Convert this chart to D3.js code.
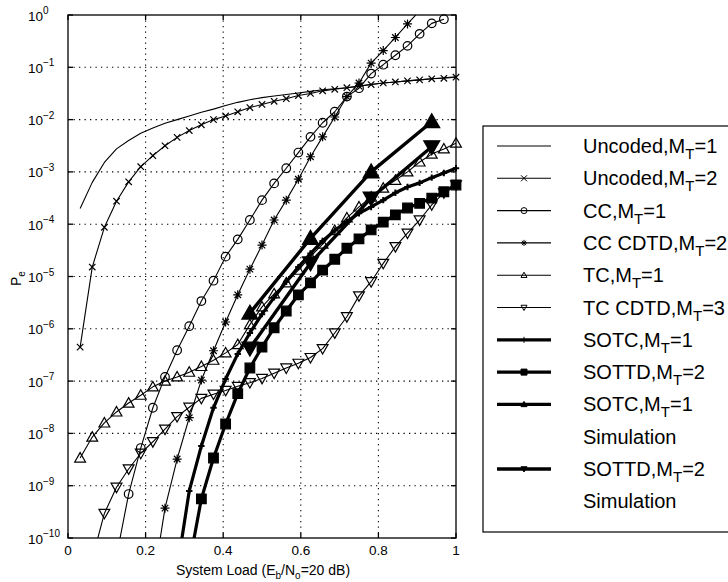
<!DOCTYPE html>
<html>
<head>
<meta charset="utf-8">
<script src="https://cdn.jsdelivr.net/npm/d3@7"></script>
<style>
  body { margin: 0; background: #fff; }
  svg { display: block; font-family: "Liberation Sans", Arial, Helvetica, sans-serif; }
</style>
</head>
<body>
<svg id="chart" width="728" height="582"></svg>
<script>
// system load (K users / 32), shared x for the analysis curves
const load = [0.03125, 0.0625, 0.09375, 0.125, 0.15625, 0.1875, 0.21875, 0.25,
  0.28125, 0.3125, 0.34375, 0.375, 0.40625, 0.4375, 0.46875, 0.5,
  0.53125, 0.5625, 0.59375, 0.625, 0.65625, 0.6875, 0.71875, 0.75,
  0.78125, 0.8125, 0.84375, 0.875, 0.90625, 0.9375, 0.96875, 1];

// log10(Pe), null = not plotted
const uncoded1 = [-3.70, -3.20, -2.82, -2.56, -2.40, -2.26, -2.16, -2.07, -2.00, -1.93, -1.86, -1.80, -1.73, -1.67, -1.62, -1.58,
  -1.55, -1.52, -1.49, -1.46, -1.43, -1.41, -1.39, -1.36, -1.33, -1.30, -1.28, -1.26, -1.24, -1.22, -1.20, -1.18];
const uncoded2 = [-6.35, -4.82, -4.06, -3.56, -3.19, -2.90, -2.69, -2.50, -2.34, -2.21, -2.10, -2.00, -1.93, -1.85, -1.77, -1.71,
  -1.65, -1.60, -1.54, -1.50, -1.45, -1.42, -1.39, -1.36, -1.33, -1.30, -1.28, -1.26, -1.24, -1.22, -1.21, -1.19];
const cc = [null, null, null, -10.35, -9.16, -8.28, -7.51, -6.92, -6.41, -5.95, -5.47, -5.08, -4.62, -4.29, -3.92, -3.54,
  -3.22, -2.93, -2.63, -2.33, -2.06, -1.85, -1.56, -1.40, -1.12, -0.95, -0.77, -0.59, -0.36, -0.16, -0.08, null];
const ccCdtd = [null, null, null, null, null, null, -10.9, -9.43, -8.49, -7.70, -6.98, -6.42, -5.87, -5.35, -4.86, -4.40,
  -3.92, -3.54, -3.14, -2.71, -2.33, -1.95, -1.56, -1.30, -0.92, -0.68, -0.43, -0.17, 0.08, null, null, null];
const tc = [-8.47, -8.07, -7.80, -7.59, -7.42, -7.27, -7.11, -7.00, -6.92, -6.83, -6.72, -6.60, -6.46, -6.30, -5.92, -5.58,
  -5.33, -5.12, -4.88, -4.62, -4.38, -4.12, -3.88, -3.67, -3.48, -3.31, -3.16, -3.00, -2.81, -2.66, -2.56, -2.45];
const tcCdtd = [null, -10.4, -9.53, -9.03, -8.68, -8.38, -8.16, -7.92, -7.68, -7.50, -7.33, -7.25, -7.18, -7.10, -7.03, -6.95,
  -6.85, -6.75, -6.66, -6.55, -6.38, -6.08, -5.77, -5.37, -5.10, -4.75, -4.43, -4.17, -3.92, -3.63, -3.40, -3.25];
const sotc = [null, null, null, null, null, null, null, null, -10.6, -9.10, -8.24, -7.51, -6.96, -6.48, -6.08, -5.72,
  -5.40, -5.10, -4.82, -4.56, -4.32, -4.12, -3.95, -3.79, -3.67, -3.54, -3.40, -3.29, -3.21, -3.11, -3.02, -2.93];
const sottd = [null, null, null, null, null, null, null, null, null, -10.5, -9.25, -8.47, -7.82, -7.24, -6.75, -6.35,
  -5.98, -5.66, -5.35, -5.12, -4.88, -4.67, -4.46, -4.28, -4.11, -3.96, -3.82, -3.69, -3.60, -3.50, -3.38, -3.25];

// simulation points
const simLoad = [0.46875, 0.625, 0.78125, 0.9375];
const sotcSim = [-5.70, -4.27, -3.00, -2.04];
const sottdSim = [-6.37, -4.74, -3.50, -2.52];

const xTicks = [0, 0.2, 0.4, 0.6, 0.8, 1];
const yExps = [0, -1, -2, -3, -4, -5, -6, -7, -8, -9, -10];

const legendRows = [
  { pre: 'Uncoded,M', sub: 'T', post: '=1' },
  { pre: 'Uncoded,M', sub: 'T', post: '=2' },
  { pre: 'CC,M', sub: 'T', post: '=1' },
  { pre: 'CC CDTD,M', sub: 'T', post: '=2' },
  { pre: 'TC,M', sub: 'T', post: '=1' },
  { pre: 'TC CDTD,M', sub: 'T', post: '=3' },
  { pre: 'SOTC,M', sub: 'T', post: '=1' },
  { pre: 'SOTTD,M', sub: 'T', post: '=2' },
  { pre: 'SOTC,M', sub: 'T', post: '=1' },
  { pre: 'Simulation' },
  { pre: 'SOTTD,M', sub: 'T', post: '=2' },
  { pre: 'Simulation' }
];

const series = [
  { x: load, y: uncoded1, mark: null, w: 1.1, row: 0 },
  { x: load, y: uncoded2, mark: 'x', w: 1.1, s: 3.2, row: 1 },
  { x: load, y: cc, mark: 'o', w: 1.1, s: 4.3, row: 2 },
  { x: load, y: ccCdtd, mark: '*', w: 1.1, s: 4.5, row: 3 },
  { x: load, y: tc, mark: '^', w: 1.1, s: 5.4, row: 4 },
  { x: load, y: tcCdtd, mark: 'v', w: 1.1, s: 5.4, row: 5 },
  { x: load, y: sotc, mark: '+', w: 3.2, s: 3.2, row: 6 },
  { x: load, y: sottd, mark: 's', w: 3.2, s: 4.8, row: 7 },
  { x: simLoad, y: sotcSim, mark: '^', w: 3.4, s: 8, fill: true, row: 8 },
  { x: simLoad, y: sottdSim, mark: 'v', w: 3.4, s: 8, fill: true, row: 10 }
];

const svg = d3.select('#chart');
const x = d3.scaleLinear().domain([0, 1]).range([68, 456]);
const y = d3.scaleLog().domain([1e-10, 1]).range([538, 15]);

function markerPath(type, s) {
  const p = d3.path();
  if (type === 'x') {
    p.moveTo(-s, -s); p.lineTo(s, s); p.moveTo(-s, s); p.lineTo(s, -s);
  } else if (type === '+') {
    p.moveTo(-s, 0); p.lineTo(s, 0); p.moveTo(0, -s); p.lineTo(0, s);
  } else if (type === '*') {
    const d = s * 0.72;
    p.moveTo(-s, 0); p.lineTo(s, 0); p.moveTo(0, -s); p.lineTo(0, s);
    p.moveTo(-d, -d); p.lineTo(d, d); p.moveTo(-d, d); p.lineTo(d, -d);
  } else if (type === '^') {
    p.moveTo(0, -s); p.lineTo(s, s * 0.75); p.lineTo(-s, s * 0.75); p.closePath();
  } else if (type === 'v') {
    p.moveTo(0, s); p.lineTo(s, -s * 0.75); p.lineTo(-s, -s * 0.75); p.closePath();
  } else if (type === 's') {
    p.rect(-s, -s, 2 * s, 2 * s);
  } else if (type === 'o') {
    p.arc(0, 0, s, 0, 2 * Math.PI);
  }
  return p.toString();
}

function drawMarker(g, type, s, filled, sw) {
  g.append('path')
    .attr('d', markerPath(type, s))
    .attr('fill', (filled || type === 's') ? '#000' : 'none')
    .attr('stroke', '#000')
    .attr('stroke-width', sw);
}

svg.append('clipPath').attr('id', 'plot-clip')
  .append('rect').attr('x', 68).attr('y', 15).attr('width', 388).attr('height', 523);

// dotted grid
const grid = svg.append('g').attr('stroke', '#000').attr('stroke-width', 1.1).attr('stroke-dasharray', '1.3,4.2');
yExps.filter(e => e < 0 && e > -10).forEach(e => {
  grid.append('line').attr('x1', x(0)).attr('x2', x(1))
    .attr('y1', y(Math.pow(10, e))).attr('y2', y(Math.pow(10, e)));
});
xTicks.filter(t => t > 0 && t < 1).forEach(t => {
  grid.append('line').attr('x1', x(t)).attr('x2', x(t)).attr('y1', y(1)).attr('y2', y(1e-10));
});

// curves
const plot = svg.append('g');
series.forEach(sr => {
  const pts = sr.x.map((v, i) => [v, sr.y[i]]).filter(d => d[1] != null);
  const line = d3.line().x(d => x(d[0])).y(d => y(Math.pow(10, d[1])));
  plot.append('path')
    .attr('d', line(pts))
    .attr('fill', 'none')
    .attr('stroke', '#000')
    .attr('stroke-width', sr.w)
    .attr('stroke-linejoin', 'round')
    .attr('clip-path', 'url(#plot-clip)');
  if (sr.mark) {
    pts.filter(d => d[1] <= 0 && d[1] >= -10).forEach(d => {
      const g = plot.append('g').attr('transform', `translate(${x(d[0])},${y(Math.pow(10, d[1]))})`);
      drawMarker(g, sr.mark, sr.s, sr.fill, sr.mark === '+' ? 2 : 1.2);
    });
  }
});

// axes frame and inward ticks
const axes = svg.append('g').attr('stroke', '#000').attr('stroke-width', 1.3);
axes.append('rect').attr('x', 68).attr('y', 15).attr('width', 388).attr('height', 523).attr('fill', 'none');
xTicks.forEach(t => {
  axes.append('line').attr('x1', x(t)).attr('x2', x(t)).attr('y1', 538).attr('y2', 533);
  axes.append('line').attr('x1', x(t)).attr('x2', x(t)).attr('y1', 15).attr('y2', 20);
});
yExps.forEach(e => {
  const yy = y(Math.pow(10, e));
  axes.append('line').attr('x1', 68).attr('x2', 73).attr('y1', yy).attr('y2', yy);
  axes.append('line').attr('x1', 456).attr('x2', 451).attr('y1', yy).attr('y2', yy);
});

// tick labels
xTicks.forEach(t => {
  svg.append('text').attr('x', x(t)).attr('y', 555).attr('text-anchor', 'middle')
    .attr('font-size', 13.5).text(String(t));
});
yExps.forEach(e => {
  const tx = svg.append('text').attr('x', 28).attr('y', y(Math.pow(10, e)) + 5.5).attr('font-size', 13.5);
  tx.append('tspan').text('10');
  tx.append('tspan').attr('dy', -6.5).attr('font-size', 10).text(e === 0 ? '0' : '\u2212' + (-e));
});

// axis titles
const xl = svg.append('text').attr('x', 263).attr('y', 575).attr('text-anchor', 'middle').attr('font-size', 14);
xl.append('tspan').text('System Load (E');
xl.append('tspan').attr('dy', 3.5).attr('font-size', 10).text('b');
xl.append('tspan').attr('dy', -3.5).text('/N');
xl.append('tspan').attr('dy', 3.5).attr('font-size', 10).text('o');
xl.append('tspan').attr('dy', -3.5).text('=20 dB)');

const yl = svg.append('text').attr('transform', 'translate(21,286) rotate(-90)').attr('font-size', 14);
yl.append('tspan').text('P');
yl.append('tspan').attr('dy', 4).attr('font-size', 10).text('e');

// legend
const leg = svg.append('g');
leg.append('rect').attr('x', 483).attr('y', 126).attr('width', 300).attr('height', 406)
  .attr('fill', '#fff').attr('stroke', '#000').attr('stroke-width', 1.2);
const rowY = i => 146 + 32.3 * i;
legendRows.forEach((r, i) => {
  const t = leg.append('text').attr('x', 583).attr('y', rowY(i) + 7).attr('font-size', 20);
  t.append('tspan').text(r.pre);
  if (r.sub) {
    t.append('tspan').attr('dy', 6).attr('font-size', 15).text(r.sub);
    t.append('tspan').attr('dy', -6).text(r.post);
  }
});
series.forEach(sr => {
  const yy = rowY(sr.row);
  leg.append('line').attr('x1', 497).attr('x2', 551).attr('y1', yy).attr('y2', yy)
    .attr('stroke', '#000').attr('stroke-width', sr.w);
  if (sr.mark) {
    const g = leg.append('g').attr('transform', `translate(524,${yy})`);
    drawMarker(g, sr.mark, Math.min(sr.s, 3), sr.fill, 1);
  }
});
</script>
</body>
</html>
